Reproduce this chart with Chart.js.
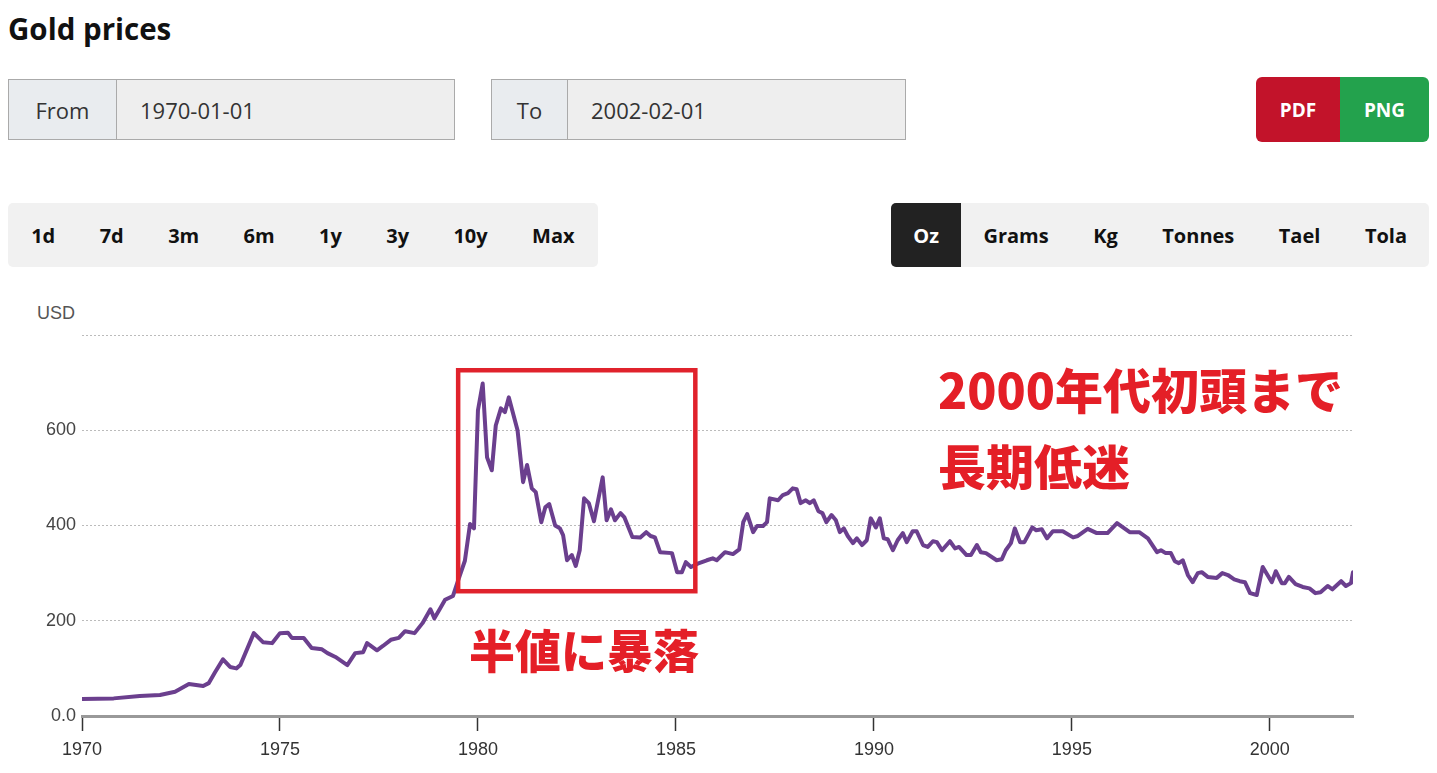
<!DOCTYPE html>
<html><head><meta charset="utf-8">
<script src="https://cdn.jsdelivr.net/npm/chart.js@4/dist/chart.umd.min.js"></script>
<style>
body{margin:0;width:1437px;height:773px;overflow:hidden;background:#fff;font-family:"Open Sans",sans-serif;position:relative}
h1{position:absolute;left:8px;top:9px;margin:0;font-size:29.5px;font-weight:700;color:#111;line-height:40px}
.date{position:absolute;top:79px;height:61px;border:1px solid #aaa;box-sizing:border-box;display:flex;background:#eee;font-size:22px;color:#333}
.date .lab{background:#e9ecef;border-right:1px solid #aaa;display:flex;align-items:center;justify-content:center}
.date .val{display:flex;align-items:center}
.bar{position:absolute;top:203px;height:64px;background:#f1f1f1;border-radius:5px;display:flex;font-weight:700;font-size:20px;color:#111}
.bar div{display:flex;align-items:center}
.range div{padding:0 22.2px}
.units div{padding:0 22.25px}
.bar .sel{background:#222;color:#fff;border-radius:5px 0 0 5px}
.btn{position:absolute;top:77px;height:65px;display:flex;align-items:center;justify-content:center;color:#fff;font-weight:700;font-size:19px}
.red{position:absolute;color:#e41f27;font-family:"Noto Sans CJK JP",sans-serif;font-weight:900;line-height:1;white-space:nowrap}
#usd{position:absolute;left:37px;top:304px;font-family:"Liberation Sans",Arial,sans-serif;font-size:18px;line-height:18px;color:#555}
#wrap{position:absolute;left:0;top:290px;width:1437px;height:483px}
</style></head>
<body>
<h1>Gold prices</h1>
<div class="date" style="left:8px;width:447px"><div class="lab" style="width:107px">From</div><div class="val" style="padding-left:23px">1970-01-01</div></div>
<div class="date" style="left:491px;width:415px"><div class="lab" style="width:75px">To</div><div class="val" style="padding-left:23px">2002-02-01</div></div>
<div class="btn" style="left:1256px;width:84px;background:#c2132a;border-radius:6px 0 0 6px">PDF</div>
<div class="btn" style="left:1340px;width:89px;background:#23a24d;border-radius:0 6px 6px 0">PNG</div>
<div class="bar range" style="left:8px;width:590px;padding-left:1px;box-sizing:border-box"><div>1d</div><div>7d</div><div>3m</div><div>6m</div><div>1y</div><div>3y</div><div>10y</div><div>Max</div></div>
<div class="bar units" style="left:891px;width:538px"><div class="sel">Oz</div><div>Grams</div><div>Kg</div><div>Tonnes</div><div>Tael</div><div>Tola</div></div>
<div id="usd">USD</div>
<div id="wrap"><canvas id="c" width="1437" height="483"></canvas></div>
<div class="red" style="left:938px;top:364px;font-size:48px">2000年代初頭まで</div>
<div class="red" style="left:938px;top:440px;font-size:48px">長期低迷</div>
<div class="red" style="left:469px;top:625px;font-size:46px">半値に暴落</div>
<script>
const years = [1970.00,1970.80,1971.46,1971.97,1972.35,1972.70,1973.06,1973.20,1973.36,1973.56,1973.74,1973.90,1974.00,1974.34,1974.57,1974.80,1975.00,1975.20,1975.30,1975.60,1975.80,1976.06,1976.20,1976.40,1976.70,1976.90,1977.10,1977.20,1977.45,1977.60,1977.80,1978.00,1978.16,1978.40,1978.60,1978.80,1978.90,1979.04,1979.17,1979.37,1979.50,1979.67,1979.80,1979.90,1980.00,1980.12,1980.23,1980.35,1980.45,1980.58,1980.68,1980.78,1981.00,1981.14,1981.24,1981.36,1981.46,1981.60,1981.70,1981.80,1981.95,1982.07,1982.15,1982.25,1982.37,1982.47,1982.57,1982.68,1982.80,1982.93,1983.15,1983.25,1983.36,1983.46,1983.60,1983.70,1983.90,1984.10,1984.25,1984.36,1984.47,1984.60,1984.90,1985.03,1985.15,1985.25,1985.38,1985.55,1985.78,1985.93,1986.03,1986.24,1986.44,1986.60,1986.70,1986.80,1986.95,1987.05,1987.20,1987.30,1987.37,1987.58,1987.70,1987.83,1987.95,1988.05,1988.15,1988.28,1988.38,1988.48,1988.60,1988.70,1988.80,1988.93,1989.04,1989.14,1989.24,1989.34,1989.47,1989.57,1989.70,1989.82,1989.92,1990.05,1990.15,1990.25,1990.35,1990.48,1990.60,1990.73,1990.83,1990.98,1991.08,1991.24,1991.36,1991.49,1991.59,1991.72,1991.92,1992.05,1992.15,1992.34,1992.45,1992.60,1992.70,1992.83,1993.10,1993.23,1993.33,1993.46,1993.56,1993.69,1993.80,1994.00,1994.10,1994.24,1994.37,1994.52,1994.77,1995.03,1995.15,1995.40,1995.63,1995.90,1996.14,1996.46,1996.70,1996.92,1997.15,1997.25,1997.37,1997.50,1997.60,1997.70,1997.80,1997.93,1998.05,1998.18,1998.28,1998.43,1998.66,1998.80,1998.94,1999.10,1999.24,1999.37,1999.50,1999.67,1999.82,2000.05,2000.15,2000.30,2000.38,2000.48,2000.65,2000.83,2001.00,2001.15,2001.28,2001.46,2001.58,2001.80,2001.92,2002.05,2002.10];
const prices = [35.5,37,42,44,51,67,63,69,92,119,103,100,107,174,155,153,174,175,164,164,143,140,132,124,107,132,134,153,138,147,160,164,178,174,195,224,205,225,244,252,285,326,403,394,642,698,543,516,610,646,638,669,600,491,527,478,470,407,438,445,400,394,380,327,338,315,348,457,447,409,501,411,434,411,426,417,376,375,386,378,375,344,342,302,302,323,313,320,327,331,327,344,340,350,407,424,386,399,399,407,457,453,464,468,478,476,447,453,447,453,430,426,407,422,411,386,394,378,363,373,359,369,415,396,415,373,371,348,369,384,365,388,388,359,355,367,365,348,367,352,355,338,338,359,344,342,327,329,348,363,394,365,365,396,390,392,373,388,388,375,378,393,384,384,405,386,386,373,344,348,342,342,325,321,327,296,281,300,302,292,290,300,296,287,283,281,258,254,313,281,304,279,279,292,277,271,268,258,260,273,266,283,273,279,302];
const xTickYears = [1970,1975,1980,1985,1990,1995,2000];
const yTickValues = [0,200,400,600,800];
const crashBox = {x0:1979.5, x1:1985.49, y0:262, y1:726};

const boxPlugin = {
  id:'crashBox',
  afterDatasetsDraw(chart){
    const {ctx, scales:{x, y}} = chart;
    const l = x.getPixelForValue(crashBox.x0), r = x.getPixelForValue(crashBox.x1);
    const t = y.getPixelForValue(crashBox.y1), b = y.getPixelForValue(crashBox.y0);
    ctx.save();
    ctx.strokeStyle = '#e0222c';
    ctx.lineWidth = 4.5;
    ctx.strokeRect(l, t, r - l, b - t);
    ctx.restore();
  }
};

new Chart(document.getElementById('c'), {
  type:'line',
  data:{datasets:[{
    data: years.map((yr,i)=>({x:yr, y:prices[i]})),
    borderColor:'#6b3f8e', borderWidth:4, pointRadius:0, tension:0,
    borderJoinStyle:'round', borderCapStyle:'round', fill:false
  }]},
  options:{
    responsive:false, animation:false, devicePixelRatio:1,
    layout:{padding:{top:45, right:84, left:0, bottom:0}},
    plugins:{legend:{display:false}, tooltip:{enabled:false}},
    scales:{
      x:{
        type:'linear', min:1970, max:2002.1, position:'bottom',
        afterBuildTicks(s){ s.ticks = xTickYears.map(v=>({value:v})); },
        afterFit(s){ s.height = 57; },
        grid:{drawOnChartArea:false, drawTicks:true, tickLength:15, tickColor:'#333', tickWidth:1.5},
        border:{display:true, color:'#999', width:3},
        ticks:{padding:8, autoSkip:false, maxRotation:0, color:'#333',
          font:{family:'Liberation Sans', size:18}, callback:v=>String(v)}
      },
      y:{
        min:0, max:800,
        afterBuildTicks(s){ s.ticks = yTickValues.map(v=>({value:v})); },
        afterFit(s){ s.width = 82; },
        grid:{color:'#bbb', lineWidth:1, drawTicks:false},
        border:{display:false, dash:[2,2]},
        ticks:{padding:6, color:'#444', font:{family:'Liberation Sans', size:18},
          callback:v=> v===0 ? '0.0' : (v===800 ? '' : String(v))}
      }
    }
  },
  plugins:[boxPlugin]
});
</script>
</body></html>
